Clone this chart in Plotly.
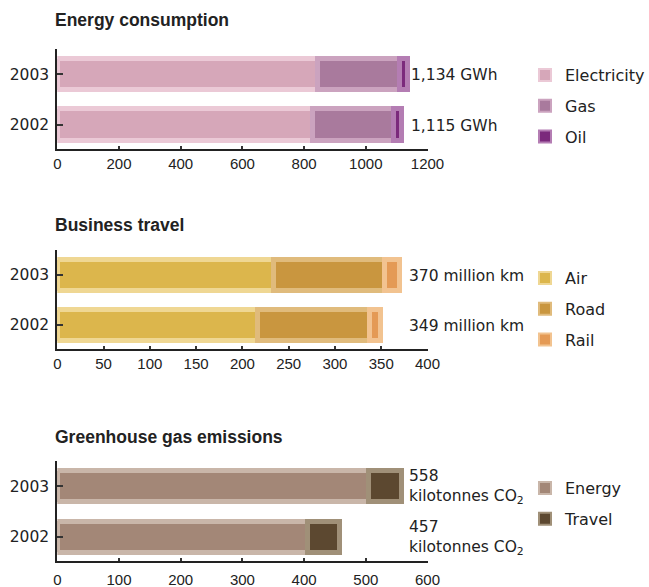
import plotly.graph_objects as go

# ---------------- data ----------------
years = ["2002", "2003"]

energy_labels = ["Electricity", "Gas", "Oil"]
electricity = [828, 842]
gas = [262, 267]
oil = [25, 25]

travel_labels = ["Air", "Road", "Rail"]
air = [216, 234]
road = [121, 120]
rail = [12, 16]

emission_labels = ["Energy", "Travel"]
em_energy = [405, 505]
em_travel = [52, 53]

titles = ["Energy consumption", "Business travel", "Greenhouse gas emissions"]
x_ticks_1 = [0, 200, 400, 600, 800, 1000, 1200]
x_ticks_2 = [0, 50, 100, 150, 200, 250, 300, 350, 400]
x_ticks_3 = [0, 100, 200, 300, 400, 500, 600]

# ---------------- styling ----------------
W, H = 649, 587
FONT = "Liberation Sans, Arial, sans-serif"
WIDE = "DejaVu Sans, sans-serif"
DARK = "#222222"

colors1 = [("#D6A7B9", "#EBC9D6"), ("#A97A9D", "#CBA3BF"), ("#7B2A7C", "#B47DB3")]
colors2 = [("#DCB64C", "#EFD793"), ("#C9963F", "#E0BB7C"), ("#E49A55", "#F2C390")]
colors3 = [("#A38777", "#C9B6A9"), ("#5C4830", "#A09078")]


def py(px):
    return 1 - px / H


def px_x(px):
    return px / W


xdom = [px_x(57.3), px_x(427.5)]
ydoms = [[py(148.7), py(49)], [py(349), py(250)], [py(561), py(461)]]
yrange = [-0.48, 1.5]

fig = go.Figure()

groups = [
    (energy_labels, [electricity, gas, oil], colors1, "x", "y", "legend"),
    (travel_labels, [air, road, rail], colors2, "x2", "y2", "legend2"),
    (emission_labels, [em_energy, em_travel], colors3, "x3", "y3", "legend3"),
]

for gi, (labels, series, cols, xa, ya, lg) in enumerate(groups):
    for name, vals, (c, lc) in zip(labels, series, cols):
        fig.add_trace(go.Bar(
            y=years, x=vals, name=name, orientation="h",
            marker=dict(color=c, line=dict(color=lc, width=5)),
            width=0.62, xaxis=xa, yaxis=ya, legend=lg,
            legendgroup=f"{gi}-{name}", hoverinfo="x+name",
        ))

fig.update_layout(
    width=W, height=H, barmode="stack",
    margin=dict(l=0, r=0, t=0, b=0, autoexpand=False),
    paper_bgcolor="white", plot_bgcolor="white",
    font=dict(family=FONT, size=15, color=DARK),
)

axis_common = dict(showline=True, linewidth=2, linecolor=DARK, showgrid=False,
                   zeroline=False, ticks="inside", tickcolor="#333333",
                   automargin=False)

xticks = [x_ticks_1, x_ticks_2, x_ticks_3]
for i in range(3):
    sx = "" if i == 0 else str(i + 1)
    fig.layout["xaxis" + sx] = dict(
        domain=xdom, anchor="y" + sx, range=[xticks[i][0], xticks[i][-1]],
        tickvals=xticks[i], ticklen=3, tickwidth=2,
        tickfont=dict(size=15, family=FONT, color=DARK),
        ticklabelstandoff=(4 if i == 2 else 0),
        **axis_common)
    fig.layout["yaxis" + sx] = dict(
        domain=ydoms[i], anchor="x" + sx, range=yrange, type="category",
        categoryorder="array", categoryarray=years,
        ticklen=6, tickwidth=2, ticklabelstandoff=3,
        tickfont=dict(size=15.5, family=WIDE, color=DARK),
        **axis_common)

# titles
title_y = [20, 225, 437]
for t, yy in zip(titles, title_y):
    fig.add_annotation(text=f"<b>{t}</b>", xref="paper", yref="paper",
                       x=px_x(53), y=py(yy), xanchor="left", yanchor="middle",
                       showarrow=False, font=dict(size=17.5, family=FONT, color=DARK))

# value labels (y given as category index)
tot1 = [a + b + c for a, b, c in zip(electricity, gas, oil)]
tot2 = [a + b + c for a, b, c in zip(air, road, rail)]
tot3 = [a + b for a, b in zip(em_energy, em_travel)]
lab_font = dict(size=15.5, family=WIDE, color=DARK)
for k, t in enumerate(tot1):
    fig.add_annotation(text=f"{t:,} GWh", xref="paper", yref="y", x=px_x(409), y=k,
                       xanchor="left", yanchor="middle", showarrow=False,
                       font=lab_font, yshift=-1)
for k, t in enumerate(tot2):
    fig.add_annotation(text=f"{t:,} million km", xref="paper", yref="y2", x=px_x(407), y=k,
                       xanchor="left", yanchor="middle", showarrow=False,
                       font=lab_font, yshift=-1)
for k, t in enumerate(tot3):
    fig.add_annotation(text=f"{t:,}<br>kilotonnes CO<sub>2</sub>", xref="paper", yref="y3",
                       x=px_x(407), y=k, xanchor="left", yanchor="middle", showarrow=False,
                       align="left", font=lab_font, yshift=-1)

leg_common = dict(xanchor="left", yanchor="top", traceorder="grouped",
                  tracegroupgap=7, font=dict(size=16, family=WIDE, color=DARK),
                  bgcolor="rgba(0,0,0,0)", itemsizing="constant")
fig.update_layout(
    legend=dict(x=px_x(525), y=py(58), **leg_common),
    legend2=dict(x=px_x(525), y=py(261), **leg_common),
    legend3=dict(x=px_x(525), y=py(471), **leg_common),
)

fig.write_html("out.html")
